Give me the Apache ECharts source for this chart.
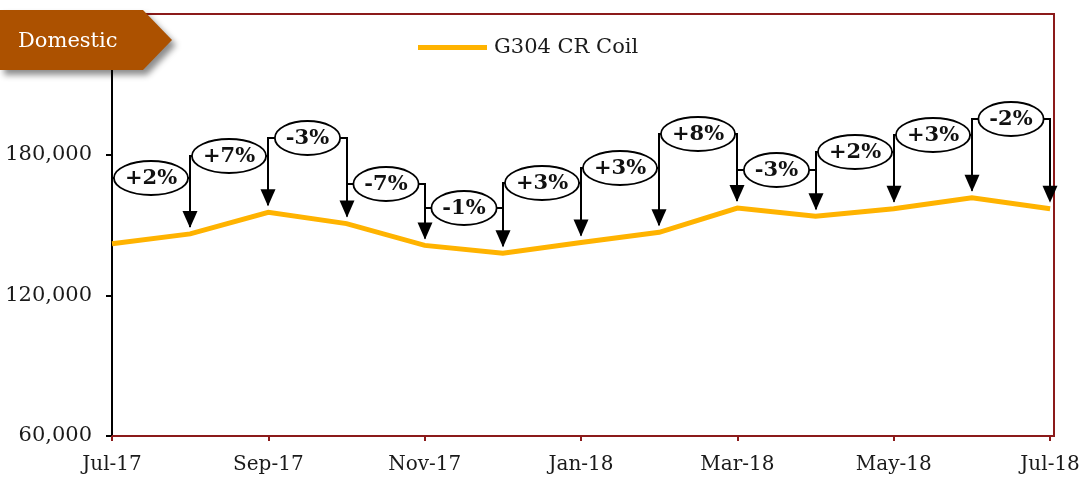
<!DOCTYPE html>
<html>
<head>
<meta charset="utf-8">
<script src="https://cdn.jsdelivr.net/npm/echarts@6/dist/echarts.min.js"></script>
<style>
  html, body { margin: 0; padding: 0; background: #fff; }
  #chart { width: 1087px; height: 479px; }
</style>
</head>
<body>
<div id="chart"></div>
<script>
// ===== Data =====
const MONTHS = ['Jul-17','Aug-17','Sep-17','Oct-17','Nov-17','Dec-17','Jan-18','Feb-18','Mar-18','Apr-18','May-18','Jun-18','Jul-18'];
const PRICES = [142000,146200,155400,150600,141300,138000,142500,146900,157200,153700,156900,161600,156900];
// month-on-month change labels, one per pair of months
const CHANGES = ['+2%','+7%','-3%','-7%','-1%','+3%','+3%','+8%','-3%','+2%','+3%','-2%'];
// height (in axis units) at which each change bubble sits
const BUBBLE_LEVELS = [170200,179600,187100,167500,157400,168100,174100,189000,173400,181300,188600,195400];
const Y_TICKS = [60000, 120000, 180000, 240000];
const X_TICKS = [0, 2, 4, 6, 8, 10, 12];

const SERIES_NAME = 'G304 CR Coil';
const COLOR_LINE = '#FFB300';
const COLOR_FRAME = '#8B1A1A';
const COLOR_TEXT = '#1a1a1a';
const FONT = '"DejaVu Serif", "Liberation Serif", serif';
const BUBBLE_FONT = 'bold 21px "DejaVu Serif"';

(function () {
  const el = document.getElementById('chart');
  const c = echarts.init(el);

  const measure = document.createElement('canvas').getContext('2d');
  measure.font = BUBBLE_FONT;

  const bubbles = CHANGES.map((lab, i) => [i, PRICES[i], PRICES[i + 1], BUBBLE_LEVELS[i]]);

  function renderBubble(params, api) {
    const i = api.value(0);
    const a = api.coord([i, api.value(1)]);
    const b = api.coord([i + 1, api.value(2)]);
    const ly = Math.round(api.coord([i, api.value(3)])[1]);
    const ax = Math.round(a[0]), bx = Math.round(b[0]);
    const text = CHANGES[params.dataIndex];
    const tw = measure.measureText(text).width;
    const rx = (tw + 22) / 2, ry = 17;
    const cx = (ax + bx) / 2;
    const tip = b[1] - 6, head = 17, hw = 7.5;
    const stroke = { stroke: '#000', lineWidth: 2 };
    return {
      type: 'group',
      children: [
        { type: 'line', shape: { x1: ax, y1: ly, x2: bx, y2: ly }, style: stroke },
        { type: 'line', shape: { x1: ax, y1: ly - 1, x2: ax, y2: a[1] - 7 }, style: stroke },
        { type: 'line', shape: { x1: bx, y1: ly - 1, x2: bx, y2: tip - head + 1 }, style: stroke },
        { type: 'polygon', shape: { points: [[bx - hw, tip - head], [bx + hw, tip - head], [bx, tip]] }, style: { fill: '#000' } },
        { type: 'ellipse', shape: { cx: cx, cy: ly, rx: rx, ry: ry }, style: { fill: '#fff', stroke: '#000', lineWidth: 1.8 } },
        { type: 'text', style: { text: text, x: cx, y: ly + 1, align: 'center', verticalAlign: 'middle', font: BUBBLE_FONT, fill: '#111' } }
      ]
    };
  }

  c.setOption({
    animation: false,
    grid: {
      left: 112, right: 33, top: 14, bottom: 43,
      show: true, borderColor: COLOR_FRAME, borderWidth: 2, backgroundColor: 'transparent'
    },
    legend: {
      data: [SERIES_NAME], left: 413, top: 32,
      icon: 'rect', itemWidth: 69, itemHeight: 5,
      textStyle: { color: COLOR_TEXT, fontFamily: FONT, fontSize: 21, padding: [0, 0, 0, 2] }
    },
    xAxis: {
      type: 'value', min: 0, max: 12.05,
      axisLine: { lineStyle: { color: COLOR_FRAME, width: 2 } },
      axisTick: { show: true, customValues: X_TICKS, length: 5, lineStyle: { color: COLOR_FRAME, width: 2 } },
      axisLabel: {
        customValues: X_TICKS, margin: 19,
        color: COLOR_TEXT, fontFamily: FONT, fontSize: 20,
        formatter: v => MONTHS[Math.round(v)] || ''
      },
      splitLine: { show: false }
    },
    yAxis: {
      type: 'value', min: 60000, max: 240000, interval: 60000,
      axisLine: { show: true, lineStyle: { color: '#000', width: 2 } },
      axisTick: { show: true, length: 6, lineStyle: { color: '#000', width: 2 } },
      axisLabel: {
        showMaxLabel: false, margin: 20,
        color: COLOR_TEXT, fontFamily: FONT, fontSize: 21,
        formatter: v => Y_TICKS.includes(v) ? v.toLocaleString('en-US') : ''
      },
      splitLine: { show: false }
    },
    series: [
      {
        name: SERIES_NAME, type: 'line',
        data: PRICES.map((v, i) => [i, v]),
        symbol: 'none',
        lineStyle: { color: COLOR_LINE, width: 5, join: 'miter' },
        itemStyle: { color: COLOR_LINE },
        z: 2
      },
      {
        name: 'changes', type: 'custom',
        data: bubbles,
        renderItem: renderBubble,
        z: 3, silent: true
      }
    ],
    graphic: [
      {
        type: 'polygon', z: 100,
        shape: { points: [[0, 10], [143, 10], [172, 40], [143, 70], [0, 70]] },
        style: { fill: '#AC5100', shadowBlur: 6, shadowOffsetX: 4, shadowOffsetY: 5, shadowColor: 'rgba(0,0,0,0.45)' }
      },
      {
        type: 'text', z: 101, x: 18, y: 42,
        style: { text: 'Domestic', fill: '#fff', font: '21px "DejaVu Serif"', verticalAlign: 'middle' }
      }
    ]
  });
})();
</script>
</body>
</html>
